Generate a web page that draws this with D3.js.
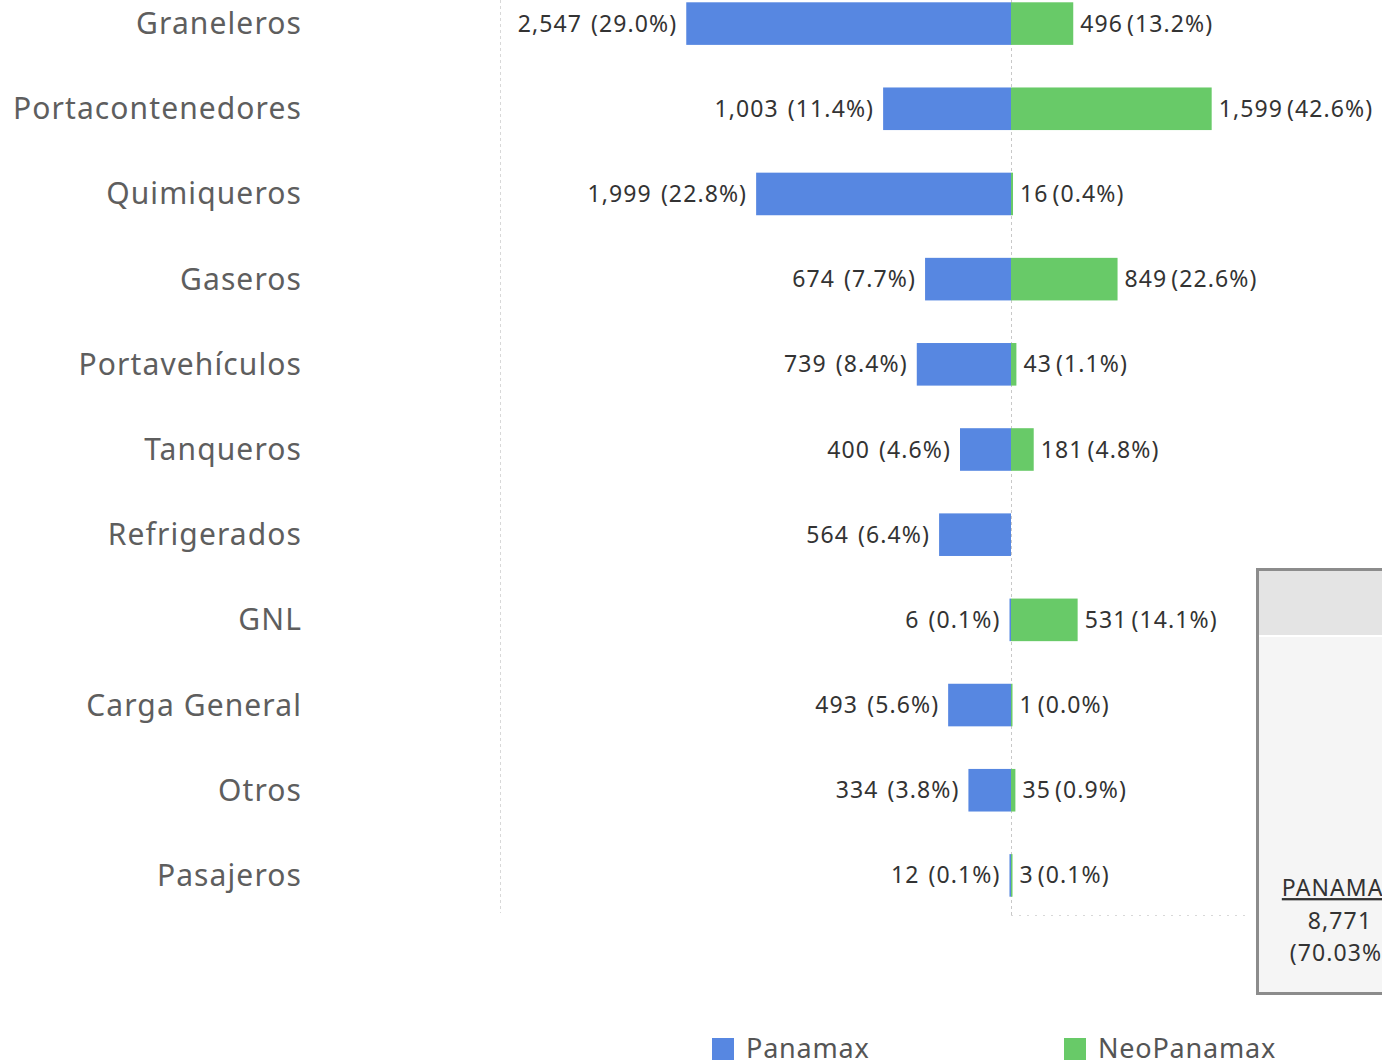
<!DOCTYPE html>
<html>
<head>
<meta charset="utf-8">
<script src="https://cdn.jsdelivr.net/npm/d3@7"></script>
<style>
  body { margin: 0; background: #fff; }
  svg { display: block; font-family: "Noto Sans", sans-serif; }
  .cat { fill: #5e5e5e; font-size: 30px; letter-spacing: 1.1px; }
  .val { fill: #333; font-size: 23px; letter-spacing: 1.1px; }
  .leg { fill: #555; font-size: 27px; letter-spacing: 0.8px; }
</style>
</head>
<body>
<div id="chart"></div>
<script>
// ship types and counts
var categories = ["Graneleros", "Portacontenedores", "Quimiqueros", "Gaseros", "Portavehículos",
                  "Tanqueros", "Refrigerados", "GNL", "Carga General", "Otros", "Pasajeros"];
var panamax    = [2547, 1003, 1999, 674, 739, 400, 564, 6, 493, 334, 12];
var panamaxPct = [29.0, 11.4, 22.8, 7.7, 8.4, 4.6, 6.4, 0.1, 5.6, 3.8, 0.1];
var neo        = [496, 1599, 16, 849, 43, 181, null, 531, 1, 35, 3];
var neoPct     = [13.2, 42.6, 0.4, 22.6, 1.1, 4.8, null, 14.1, 0.0, 0.9, 0.1];
var seriesNames = ["Panamax", "NeoPanamax"];
var seriesColors = ["#5787e1", "#68ca68"];
var totalLabel = ["PANAMAX", "8,771", "(70.03%)"];

var W = 1382, H = 1063;
var svg = d3.select("#chart").append("svg").attr("width", W).attr("height", H);

var center = 1011;
// two axes, one for each side (like the dual axis of the original)
var xP = d3.scaleLinear().domain([0, 4000]).range([center, center - 510]);
var xN = d3.scaleLinear().domain([0, 4000]).range([center, center + 502]);
var y = d3.scaleBand().domain(categories).range([-19, 918]).paddingInner(0.5).paddingOuter(0.25);
var fmt = d3.format(",");

//grid lines
svg.append("line").attr("x1", 500.5).attr("x2", 500.5).attr("y1", 0).attr("y2", 913)
   .attr("stroke", "#d8d8d8").attr("stroke-dasharray", "3,3");
svg.append("line").attr("x1", center + 0.5).attr("x2", center + 0.5).attr("y1", 0).attr("y2", 915)
   .attr("stroke", "#c8c8c8").attr("stroke-dasharray", "3,3");
svg.append("line").attr("x1", center).attr("x2", 1250).attr("y1", 915.5).attr("y2", 915.5)
   .attr("stroke", "#d8d8d8").attr("stroke-dasharray", "2,6");

//category labels
svg.selectAll(".cat").data(categories).enter().append("text")
   .attr("class", "cat")
   .attr("x", 302)
   .attr("y", d => y(d) + y.bandwidth() / 2)
   .attr("dy", "0.35em")
   .attr("text-anchor", "end")
   .text(d => d);

var rows = categories.map((c, i) => ({cat: c, p: panamax[i], pp: panamaxPct[i], n: neo[i], np: neoPct[i]}));

//panamax bars go left
svg.selectAll(".barP").data(rows).enter().append("rect")
   .attr("x", d => Math.min(xP(d.p), center - 1.5))
   .attr("y", d => y(d.cat))
   .attr("width", d => Math.max(center - xP(d.p), 1.5))
   .attr("height", y.bandwidth())
   .attr("fill", seriesColors[0]);

svg.selectAll(".barN").data(rows.filter(d => d.n)).enter().append("rect")
   .attr("x", center)
   .attr("y", d => y(d.cat))
   .attr("width", d => Math.max(xN(d.n) - center, 1.5))
   .attr("height", y.bandwidth())
   .attr("fill", seriesColors[1]);

var lp = svg.selectAll(".lp").data(rows).enter().append("text")
   .attr("class", "val")
   .attr("x", d => Math.min(xP(d.p), center - 1.5) - 9)
   .attr("y", d => y(d.cat) + y.bandwidth() / 2)
   .attr("dy", "0.35em")
   .attr("text-anchor", "end");
lp.append("tspan").text(d => fmt(d.p));
lp.append("tspan").attr("dx", 9).text(d => "(" + d.pp.toFixed(1) + "%)");

var ln = svg.selectAll(".ln").data(rows.filter(d => d.n)).enter().append("text")
   .attr("class", "val")
   .attr("x", d => Math.max(xN(d.n), center + 1.5) + 7)
   .attr("y", d => y(d.cat) + y.bandwidth() / 2)
   .attr("dy", "0.35em");
ln.append("tspan").text(d => fmt(d.n));
ln.append("tspan").attr("dx", 4).text(d => "(" + d.np.toFixed(1) + "%)");

//total box on the right (cut off by the frame)
var box = svg.append("g");
box.append("rect").attr("x", 1257.5).attr("y", 569.5).attr("width", 140).attr("height", 424)
   .attr("fill", "#f5f5f5").attr("stroke", "#8c8c8c").attr("stroke-width", 3);
box.append("rect").attr("x", 1259).attr("y", 571).attr("width", 130).attr("height", 64)
   .attr("fill", "#e4e4e4");
box.append("line").attr("x1", 1259).attr("x2", 1390).attr("y1", 636).attr("y2", 636)
   .attr("stroke", "#fff").attr("stroke-width", 2);
box.selectAll(".tot").data(totalLabel).enter().append("text")
   .attr("class", "val")
   .attr("fill", "#444")
   .attr("x", 1340)
   .attr("y", (d, i) => 888 + i * 32.5)
   .attr("dy", "0.35em")
   .attr("text-anchor", "middle")
   .style("text-decoration", (d, i) => i == 0 ? "underline" : null)
   .text(d => d);

//legend
var legX = [712, 1064];
var leg = svg.selectAll(".legItem").data(seriesNames).enter().append("g")
   .attr("transform", (d, i) => "translate(" + legX[i] + ",1038)");
leg.append("rect").attr("width", 22).attr("height", 22).attr("fill", (d, i) => seriesColors[i]);
leg.append("text").attr("class", "leg").attr("x", 34).attr("y", 11).attr("dy", "0.35em").text(d => d);
</script>
</body>
</html>
